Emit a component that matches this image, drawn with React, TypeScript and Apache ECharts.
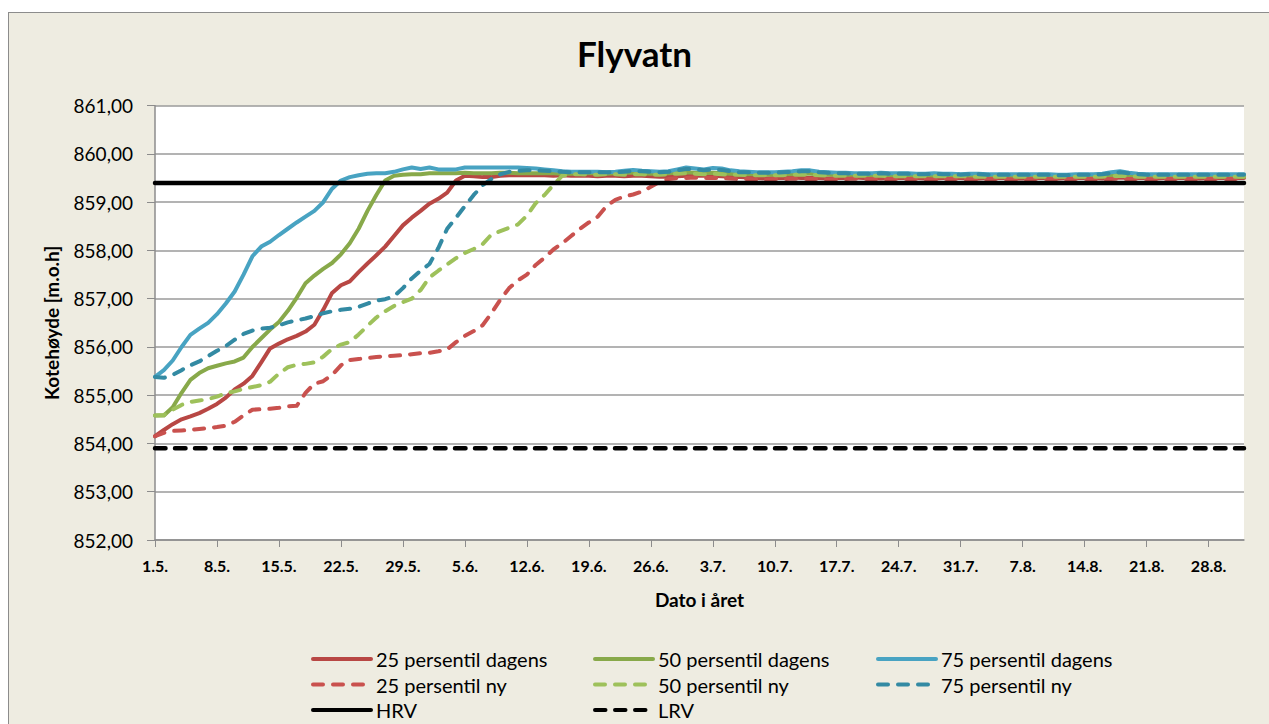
import React, { useEffect, useRef } from "react";
import * as echarts from "echarts";

// ---------- data ----------
const MONTHS: [number, number][] = [[5, 31], [6, 30], [7, 31], [8, 31], [9, 1]];
const CATEGORIES: string[] = [];
for (const [m, n] of MONTHS) for (let d = 1; d <= n; d++) CATEGORIES.push(`${d}.${m}.`);

const TITLE = "Flyvatn";
const Y_NAME = "Kotehøyde [m.o.h]";
const X_NAME = "Dato i året";
const HRV = 859.4;
const LRV = 853.9;

const P25_DAGENS = [
  854.15, 854.28, 854.40, 854.50, 854.56, 854.63, 854.72, 854.82, 854.95, 855.12,
  855.24, 855.40, 855.68, 855.97, 856.07, 856.16, 856.23, 856.32, 856.46, 856.77,
  857.12, 857.28, 857.36, 857.55, 857.73, 857.90, 858.08, 858.30, 858.52, 858.68,
  858.82, 858.97, 859.07, 859.20, 859.45, 859.55, 859.54, 859.52, 859.52, 859.55,
  859.56, 859.56, 859.56, 859.56, 859.56, 859.55, 859.56, 859.55, 859.55, 859.55,
  859.54, 859.55, 859.55, 859.54, 859.55, 859.55, 859.54, 859.53, 859.53, 859.54,
  859.55, 859.55, 859.55, 859.55, 859.54, 859.53, 859.52, 859.51, 859.50, 859.49,
  859.50, 859.50, 859.51, 859.50, 859.50, 859.50, 859.49, 859.50, 859.50, 859.51,
  859.50, 859.50, 859.49, 859.50, 859.50, 859.50, 859.50, 859.49, 859.49, 859.50,
  859.50, 859.50, 859.49, 859.49, 859.50, 859.50, 859.50, 859.49, 859.49, 859.50,
  859.50, 859.50, 859.49, 859.50, 859.50, 859.50, 859.50, 859.49, 859.50, 859.51,
  859.50, 859.50, 859.50, 859.49, 859.50, 859.50, 859.50, 859.50, 859.49, 859.50,
  859.50, 859.50, 859.50, 859.50,
];

const P50_DAGENS = [
  854.58, 854.58, 854.75, 855.05, 855.32, 855.46, 855.56, 855.61, 855.66, 855.70,
  855.78, 856.00, 856.18, 856.36, 856.52, 856.75, 857.02, 857.32, 857.48, 857.62,
  857.74, 857.92, 858.15, 858.45, 858.82, 859.15, 859.45, 859.55, 859.57, 859.58,
  859.58, 859.60, 859.60, 859.60, 859.60, 859.61, 859.60, 859.60, 859.60, 859.61,
  859.61, 859.60, 859.60, 859.60, 859.60, 859.60, 859.59, 859.59, 859.60, 859.60,
  859.60, 859.59, 859.60, 859.61, 859.61, 859.60, 859.59, 859.59, 859.60, 859.61,
  859.62, 859.61, 859.60, 859.61, 859.60, 859.59, 859.58, 859.58, 859.58, 859.57,
  859.57, 859.58, 859.58, 859.59, 859.59, 859.58, 859.57, 859.57, 859.57, 859.56,
  859.56, 859.57, 859.56, 859.56, 859.56, 859.55, 859.56, 859.56, 859.55, 859.55,
  859.55, 859.55, 859.55, 859.55, 859.54, 859.55, 859.55, 859.54, 859.54, 859.54,
  859.55, 859.54, 859.54, 859.54, 859.54, 859.54, 859.54, 859.55, 859.56, 859.57,
  859.55, 859.54, 859.54, 859.54, 859.54, 859.53, 859.54, 859.54, 859.54, 859.53,
  859.53, 859.54, 859.53, 859.53,
];

const P75_DAGENS = [
  855.38, 855.52, 855.72, 856.00, 856.25, 856.38, 856.50, 856.68, 856.90, 857.15,
  857.50, 857.88, 858.08, 858.18, 858.32, 858.45, 858.58, 858.70, 858.82, 859.00,
  859.28, 859.45, 859.52, 859.56, 859.59, 859.60, 859.60, 859.63, 859.68, 859.72,
  859.69, 859.72, 859.68, 859.68, 859.68, 859.72, 859.72, 859.72, 859.72, 859.72,
  859.72, 859.72, 859.71, 859.70, 859.68, 859.66, 859.64, 859.63, 859.63, 859.63,
  859.63, 859.62, 859.63, 859.65, 859.67, 859.65, 859.64, 859.63, 859.64, 859.68,
  859.72, 859.70, 859.68, 859.71, 859.70, 859.66, 859.64, 859.63, 859.62, 859.62,
  859.62, 859.63, 859.64, 859.66, 859.66, 859.63, 859.62, 859.61, 859.61, 859.60,
  859.60, 859.60, 859.61, 859.60, 859.60, 859.60, 859.59, 859.59, 859.60, 859.59,
  859.59, 859.58, 859.59, 859.59, 859.58, 859.58, 859.58, 859.58, 859.58, 859.58,
  859.58, 859.58, 859.57, 859.57, 859.58, 859.58, 859.58, 859.59, 859.62, 859.64,
  859.61, 859.59, 859.58, 859.58, 859.58, 859.58, 859.58, 859.58, 859.58, 859.58,
  859.58, 859.58, 859.58, 859.58,
];

const P25_NY = [
  854.15, 854.22, 854.26, 854.27, 854.28, 854.30, 854.32, 854.34, 854.37, 854.45,
  854.58, 854.70, 854.71, 854.72, 854.74, 854.77, 854.78, 855.05, 855.24, 855.29,
  855.42, 855.62, 855.73, 855.75, 855.77, 855.79, 855.81, 855.82, 855.83, 855.85,
  855.87, 855.88, 855.91, 855.95, 856.10, 856.23, 856.33, 856.45, 856.70, 856.98,
  857.22, 857.38, 857.50, 857.70, 857.85, 858.02, 858.15, 858.30, 858.45, 858.58,
  858.70, 858.92, 859.05, 859.12, 859.16, 859.22, 859.32, 859.42, 859.48, 859.50,
  859.50, 859.51, 859.50, 859.50, 859.50, 859.49, 859.48, 859.48, 859.47, 859.47,
  859.48, 859.48, 859.49, 859.48, 859.48, 859.48, 859.47, 859.48, 859.48, 859.49,
  859.48, 859.48, 859.47, 859.48, 859.48, 859.48, 859.48, 859.47, 859.47, 859.48,
  859.48, 859.48, 859.47, 859.47, 859.48, 859.48, 859.48, 859.47, 859.47, 859.48,
  859.48, 859.48, 859.47, 859.48, 859.48, 859.48, 859.48, 859.47, 859.48, 859.49,
  859.48, 859.48, 859.48, 859.47, 859.48, 859.48, 859.48, 859.48, 859.47, 859.48,
  859.48, 859.48, 859.48, 859.48,
];

const P50_NY = [
  854.58, 854.59, 854.70, 854.80, 854.86, 854.89, 854.92, 854.97, 855.04, 855.08,
  855.13, 855.17, 855.21, 855.28, 855.45, 855.58, 855.63, 855.65, 855.68, 855.80,
  855.96, 856.05, 856.10, 856.26, 856.44, 856.61, 856.74, 856.85, 856.93, 857.00,
  857.18, 857.44, 857.58, 857.71, 857.84, 857.95, 858.03, 858.13, 858.33, 858.40,
  858.47, 858.54, 858.72, 858.98, 859.15, 859.36, 859.55, 859.58, 859.58, 859.57,
  859.57, 859.58, 859.58, 859.57, 859.58, 859.58, 859.57, 859.57, 859.58, 859.59,
  859.60, 859.59, 859.58, 859.59, 859.58, 859.57, 859.57, 859.56, 859.56, 859.56,
  859.56, 859.56, 859.57, 859.57, 859.57, 859.56, 859.55, 859.55, 859.55, 859.55,
  859.55, 859.55, 859.55, 859.54, 859.54, 859.54, 859.54, 859.54, 859.54, 859.54,
  859.54, 859.54, 859.53, 859.53, 859.53, 859.53, 859.53, 859.53, 859.53, 859.53,
  859.53, 859.53, 859.53, 859.53, 859.53, 859.53, 859.53, 859.53, 859.54, 859.55,
  859.54, 859.53, 859.53, 859.53, 859.53, 859.53, 859.53, 859.53, 859.53, 859.53,
  859.53, 859.53, 859.53, 859.53,
];

const P75_NY = [
  855.38, 855.36, 855.42, 855.52, 855.62, 855.70, 855.81, 855.92, 856.02, 856.15,
  856.27, 856.34, 856.38, 856.40, 856.45, 856.51, 856.55, 856.59, 856.64, 856.70,
  856.74, 856.77, 856.79, 856.83, 856.90, 856.96, 856.99, 857.05, 857.22, 857.42,
  857.58, 857.72, 858.05, 858.45, 858.68, 858.92, 859.15, 859.35, 859.48, 859.58,
  859.63, 859.65, 859.66, 859.66, 859.65, 859.64, 859.63, 859.62, 859.62, 859.62,
  859.62, 859.62, 859.62, 859.63, 859.65, 859.64, 859.63, 859.62, 859.63, 859.66,
  859.69, 859.68, 859.66, 859.68, 859.67, 859.64, 859.62, 859.62, 859.61, 859.61,
  859.61, 859.62, 859.63, 859.64, 859.64, 859.62, 859.61, 859.60, 859.60, 859.59,
  859.59, 859.59, 859.60, 859.59, 859.59, 859.59, 859.58, 859.58, 859.59, 859.58,
  859.58, 859.57, 859.58, 859.58, 859.57, 859.57, 859.57, 859.57, 859.57, 859.57,
  859.57, 859.57, 859.56, 859.56, 859.57, 859.57, 859.57, 859.58, 859.60, 859.62,
  859.60, 859.58, 859.57, 859.57, 859.57, 859.57, 859.57, 859.57, 859.57, 859.57,
  859.57, 859.57, 859.57, 859.57,
];

const SERIES_NAMES = [
  "25 persentil dagens", "50 persentil dagens", "75 persentil dagens",
  "25 persentil ny", "50 persentil ny", "75 persentil ny",
  "HRV", "LRV",
];

const FONT = "Lato, 'Liberation Sans', sans-serif";

export default function App() {
  const ref = useRef<HTMLDivElement>(null);
  useEffect(() => {
    if (!ref.current) return;
    const chart = echarts.init(ref.current, null, { renderer: "svg" });
    const last = CATEGORIES.length - 1;
    const solid = (name: string, data: number[], color: string) => ({
      name, type: "line", data, symbol: "none", smooth: false,
      lineStyle: { color, width: 4, cap: "round", join: "round" },
      itemStyle: { color },
    });
    const dashed = (name: string, data: number[], color: string) => ({
      name, type: "line", data, symbol: "none",
      lineStyle: { color, width: 4, type: [10, 10], cap: "round", join: "round" },
      itemStyle: { color },
    });
    const legendBase = {
      orient: "vertical",
      itemWidth: 58,
      itemHeight: 12,
      itemGap: 5.5,
      padding: 0,
      itemStyle: { color: "transparent", borderColor: "transparent", borderWidth: 0, opacity: 0 },
      lineStyle: { width: 4, cap: "round" },
      textStyle: { fontFamily: FONT, fontSize: 20, color: "#000", lineHeight: 20 },
      top: 649,
    };
    chart.setOption({
      animation: false,
      backgroundColor: "transparent",
      textStyle: { fontFamily: FONT },
      title: {
        text: TITLE,
        left: "center",
        top: 30,
        textStyle: { fontFamily: FONT, fontSize: 35, fontWeight: "bold", color: "#000" },
      },
      grid: {
        left: 155, top: 105.7, right: 25, bottom: 184,
        show: true, backgroundColor: "#fff", borderWidth: 0,
      },
      legend: [
        { ...legendBase, left: 311, data: [SERIES_NAMES[0], SERIES_NAMES[3], SERIES_NAMES[6]] },
        { ...legendBase, left: 593, data: [SERIES_NAMES[1], SERIES_NAMES[4], SERIES_NAMES[7]] },
        { ...legendBase, left: 876, data: [SERIES_NAMES[2], SERIES_NAMES[5]] },
      ],
      xAxis: {
        type: "category",
        data: CATEGORIES,
        boundaryGap: false,
        name: X_NAME,
        nameLocation: "middle",
        nameGap: 50,
        nameTextStyle: { fontFamily: FONT, fontSize: 19, fontWeight: "bold", color: "#000" },
        axisLine: { lineStyle: { color: "#8c8c8c", width: 1.5 } },
        axisTick: { interval: 6, length: 7, lineStyle: { color: "#8c8c8c" } },
        axisLabel: {
          interval: 6, margin: 17, fontFamily: FONT, fontSize: 16, fontWeight: "bold", color: "#000",
        },
        splitLine: { show: false },
      },
      yAxis: {
        type: "value",
        min: 852, max: 861, interval: 1,
        name: Y_NAME,
        nameLocation: "middle",
        nameGap: 94,
        nameRotate: 90,
        nameTextStyle: { fontFamily: FONT, fontSize: 19, fontWeight: "bold", color: "#000" },
        axisLine: { show: true, lineStyle: { color: "#8c8c8c", width: 1.5 } },
        axisTick: { show: true, length: 8, lineStyle: { color: "#8c8c8c" } },
        axisLabel: {
          margin: 22, fontFamily: FONT, fontSize: 19, color: "#000",
          formatter: (v: number) => v.toFixed(2).replace(".", ","),
        },
        splitLine: { lineStyle: { color: "#9a9a9a", width: 1.5 } },
      },
      series: [
        solid(SERIES_NAMES[0], P25_DAGENS, "#B84744"),
        solid(SERIES_NAMES[1], P50_DAGENS, "#88A94A"),
        solid(SERIES_NAMES[2], P75_DAGENS, "#48A3C2"),
        dashed(SERIES_NAMES[3], P25_NY, "#C9514E"),
        dashed(SERIES_NAMES[4], P50_NY, "#9EC15B"),
        dashed(SERIES_NAMES[5], P75_NY, "#338AA3"),
        {
          name: SERIES_NAMES[6], type: "line", symbol: "none",
          data: [[0, HRV], [last, HRV]],
          lineStyle: { color: "#000", width: 4.5, cap: "round" },
          itemStyle: { color: "#000" },
        },
        {
          name: SERIES_NAMES[7], type: "line", symbol: "none",
          data: [[0, LRV], [last, LRV]],
          lineStyle: { color: "#000", width: 4.5, type: [10.5, 9.5], cap: "round" },
          itemStyle: { color: "#000" },
        },
      ],
    });
    return () => chart.dispose();
  }, []);

  return (
    <div style={{ position: "fixed", left: 0, top: 0, width: 1269, height: 724, background: "#fff", overflow: "hidden" }}>
      <div
        style={{
          position: "absolute", left: 8, top: 12, width: 1262, height: 730,
          background: "#EEECE1", border: "1px solid #8c8c8c", boxSizing: "border-box",
        }}
      />
      <div ref={ref} style={{ position: "absolute", left: 0, top: 0, width: 1269, height: 724 }} />
    </div>
  );
}
